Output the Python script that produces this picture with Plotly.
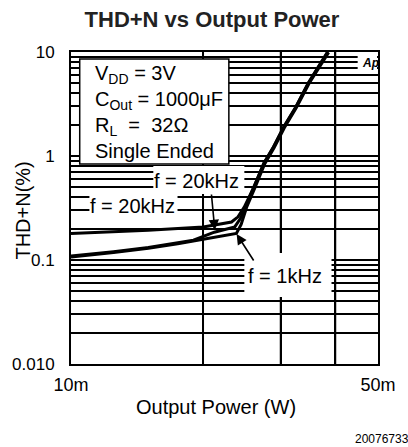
import numpy as np
import plotly.graph_objects as go

# ---- data (output power in W, THD+N in %) ----
p_20k_hi = [0.010, 0.015, 0.020, 0.0232, 0.0240, 0.0248, 0.0261, 0.0275, 0.0289, 0.0305, 0.0325, 0.0347, 0.0384]
thd_20k_hi = [0.180, 0.193, 0.208, 0.232, 0.260, 0.323, 0.504, 0.857, 1.22, 1.90, 2.96, 5.03, 10.0]

p_20k_lo = [0.010, 0.0125, 0.015, 0.0175, 0.019, 0.0212, 0.0225, 0.0236, 0.0243, 0.0250, 0.0261, 0.0275, 0.0289, 0.0305, 0.0325, 0.0347, 0.0384]
thd_20k_lo = [0.109, 0.120, 0.132, 0.145, 0.155, 0.185, 0.197, 0.208, 0.250, 0.330, 0.500, 0.850, 1.21, 1.89, 2.94, 5.00, 10.0]

p_1k = [0.010, 0.0125, 0.015, 0.0175, 0.020, 0.022, 0.0238, 0.0244, 0.0251, 0.0262, 0.0276, 0.0290, 0.0306, 0.0326, 0.0348, 0.0386]
thd_1k = [0.107, 0.118, 0.130, 0.143, 0.158, 0.170, 0.180, 0.220, 0.320, 0.490, 0.840, 1.20, 1.87, 2.92, 4.95, 9.9]

x_tickvals = [0.01, 0.02, 0.03, 0.04, 0.05]
x_ticktext = ["10m", "", "", "", "50m"]
x_grid = [0.02, 0.03, 0.04]
y_range = [0.01, 10.0]
y_tickvals = [m * 10.0 ** e for e in (-2, -1, 0) for m in range(1, 10)] + [10.0]
y_major = {0.01: "0.010", 0.1: "0.1", 1.0: "1", 10.0: "10"}
y_ticktext = [next((t for v, t in y_major.items() if abs(v - tv) < 1e-9), "") for tv in y_tickvals]

FONT = "Liberation Sans, Arial, sans-serif"
INK = "black"

fig = go.Figure()

# vertical grid lines at 20m / 30m / 40m
gx, gy = [], []
for v in x_grid:
    gx += [v, v, None]
    gy += [y_range[0], y_range[1], None]
fig.add_trace(go.Scatter(x=gx, y=gy, mode="lines", line=dict(color=INK, width=1.6),
                         showlegend=False, hoverinfo="skip", cliponaxis=True))

for px_, ty_ in [(p_20k_hi, thd_20k_hi), (p_20k_lo, thd_20k_lo), (p_1k, thd_1k)]:
    fig.add_trace(go.Scatter(x=px_, y=ty_, mode="lines",
                             line=dict(color=INK, width=3, shape="linear"),
                             showlegend=False, hoverinfo="skip"))

# plot-area pixel geometry helpers for decorations
L, R, T, B = 68, 385, 52, 364
def px(x):
    return (x - L) / (R - L)
def py(y):
    return (B - y) / (B - T)

shapes = []
def box(x0, y0, x1, y1, line=True):
    shapes.append(dict(type="rect", xref="paper", yref="paper",
                       x0=px(x0), x1=px(x1), y0=py(y1), y1=py(y0),
                       fillcolor="white", layer="above",
                       line=dict(color=INK, width=1.5 if line else 0)))

box(77, 59, 231, 164, line=True)          # condition box
box(153, 166, 247, 194, line=False)       # upper f = 20kHz
box(87, 196, 178, 216, line=False)        # lower f = 20kHz
box(247, 253, 337, 297, line=False)       # f = 1kHz
box(364, 54, 384, 72, line=False)         # Ap logo

annotations = []
def label(x, y, text, size=20, xanchor="center", **kw):
    annotations.append(dict(xref="paper", yref="paper", x=px(x), y=py(y), text=text,
                            showarrow=False, xanchor=xanchor, yanchor="middle",
                            font=dict(family=FONT, size=size, color=INK), **kw))

label(91, 112, "V<sub>DD</sub> = 3V<br>C<sub>Out</sub> = 1000\u03bcF<br>R<sub>L</sub>\u00a0 = \u00a032\u03a9<br>Single Ended",
      size=20, xanchor="left", align="left")
label(198, 181, "f = 20kHz")
label(132, 206, "f = 20kHz")
label(289, 276, "f = 1kHz")
label(377, 63, "<b><i>Ap</i></b>", size=12)
label(18, 211, "THD+N(%)", textangle=-90)
label(218, 407, "Output Power (W)")
label(360, 439, "20076733", size=12, xanchor="left", borderpad=0)

def arrow(tipx, tipy, tailx, taily):
    annotations.append(dict(xref="paper", yref="paper", x=px(tipx), y=py(tipy), text="",
                            showarrow=True, ax=tailx - tipx, ay=taily - tipy,
                            arrowhead=2, arrowsize=1.3, arrowwidth=1.6, arrowcolor=INK,
                            standoff=0, startstandoff=0))

arrow(216.5, 230, 213, 193)
arrow(239, 234, 257, 262)

fig.update_layout(
    width=408, height=447,
    margin=dict(l=L, r=408 - R, t=T, b=447 - B),
    paper_bgcolor="white", plot_bgcolor="white",
    title=dict(text="<b>THD+N vs Output Power</b>", x=212 / 408, xanchor="center",
               y=1 - 19 / 447, yanchor="middle",
               font=dict(family=FONT, size=22, color="#222")),
    shapes=shapes, annotations=annotations,
    font=dict(family=FONT, color=INK),
)
fig.update_xaxes(type="log", range=[np.log10(0.01), np.log10(0.05)],
                 tickmode="array", tickvals=x_tickvals, ticktext=x_ticktext,
                 showgrid=True, gridcolor=INK, gridwidth=1.5,
                 showline=True, linecolor=INK, linewidth=2, mirror=True,
                 ticks="", zeroline=False, ticklabelstandoff=3,
                 tickfont=dict(family=FONT, size=18, color=INK))
fig.update_yaxes(type="log", range=[np.log10(y_range[0]), np.log10(y_range[1])],
                 tickmode="array", tickvals=y_tickvals, ticktext=y_ticktext,
                 showgrid=True, gridcolor=INK, gridwidth=1.5,
                 showline=True, linecolor=INK, linewidth=2, mirror=True,
                 ticks="", zeroline=False, ticklabelstandoff=11,
                 tickfont=dict(family=FONT, size=17, color=INK))

fig.write_html("out.html", config={"displayModeBar": False},
               post_script="document.body.style.margin='0';document.body.style.overflow='hidden';")
